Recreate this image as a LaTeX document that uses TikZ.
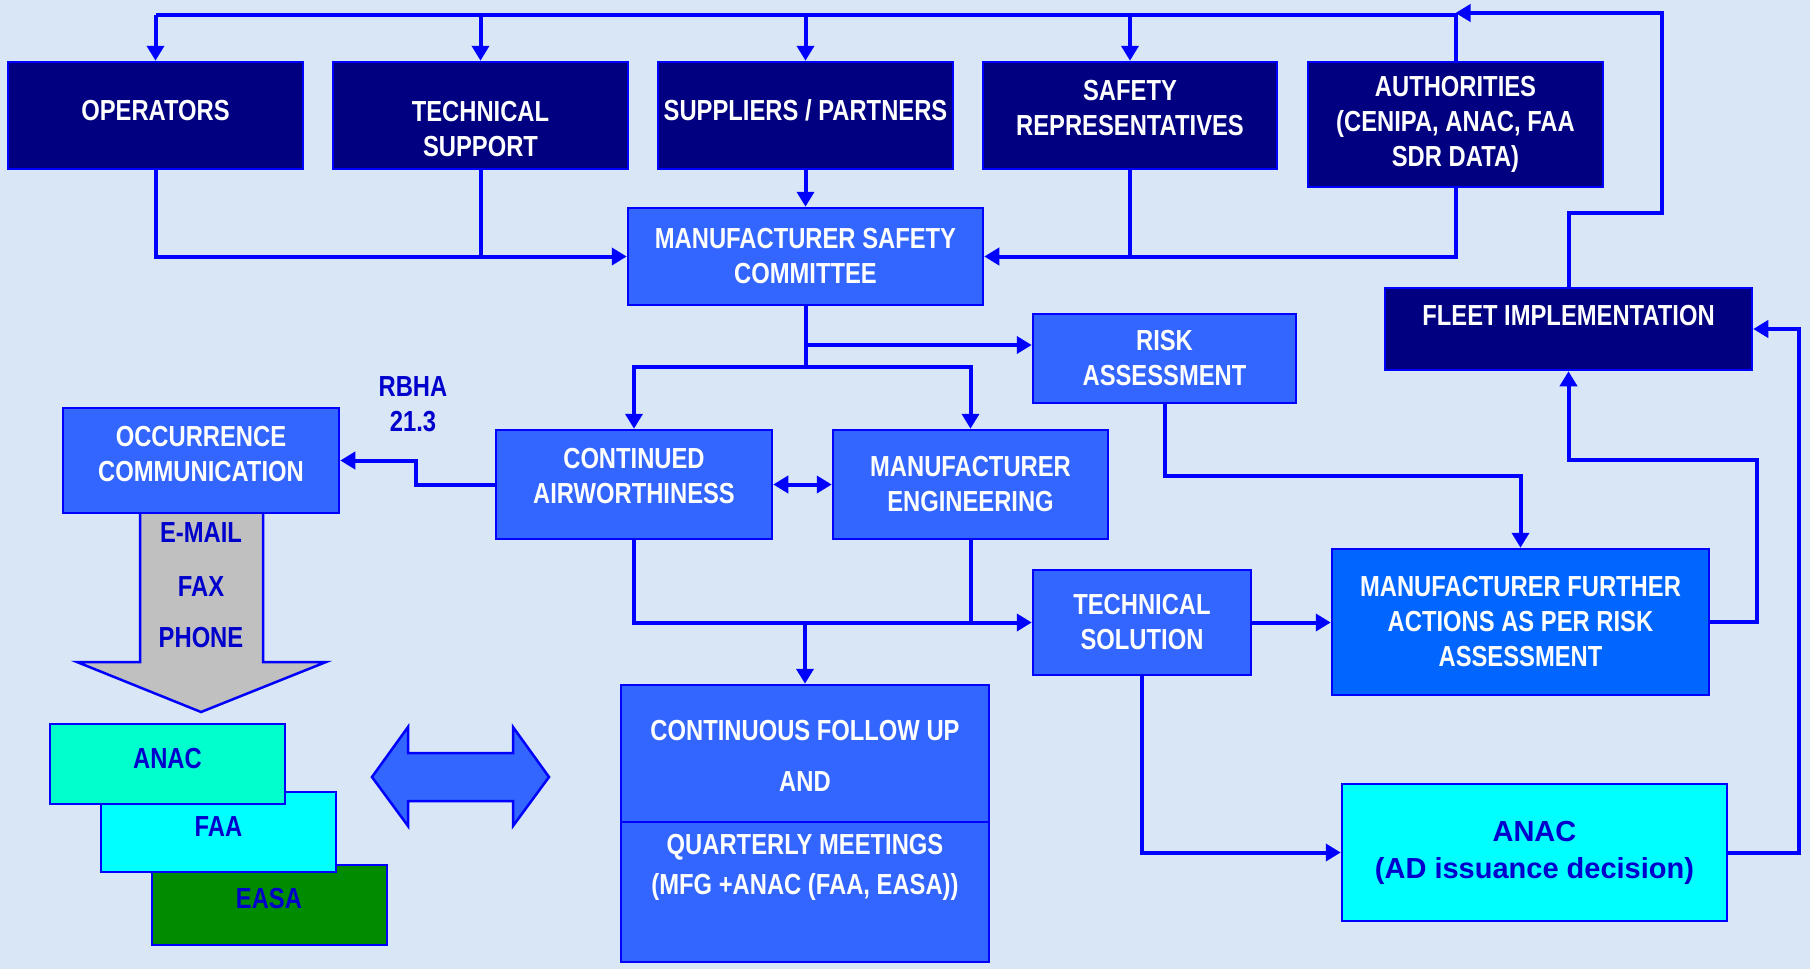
\documentclass[tikz,border=0pt]{standalone}
\usepackage{fontspec}
\setmainfont{Liberation Sans}[FakeStretch=0.82]
\newfontfamily\widefont{Liberation Sans}
\usetikzlibrary{arrows.meta}
\definecolor{bgblue}{RGB}{216,230,245}
\definecolor{navy}{RGB}{0,0,128}
\definecolor{midblue}{RGB}{51,102,255}
\definecolor{brightblue}{RGB}{0,102,255}
\definecolor{linkblue}{RGB}{0,0,255}
\definecolor{txtblue}{RGB}{0,0,204}
\definecolor{anacgreen}{RGB}{0,255,204}
\definecolor{aqua}{RGB}{0,255,255}
\definecolor{easagreen}{RGB}{0,140,0}
\definecolor{arrowgray}{RGB}{192,192,192}

\begin{document}
\begin{tikzpicture}[x=0.1mm,y=-0.1mm]

		\tikzstyle{box}=[draw=linkblue, line width=0.25mm, rectangle, align=center, inner sep=0pt, font=\bfseries\fontsize{8.25pt}{9.96pt}\selectfont]
		\tikzstyle{dark box}=[box, fill=navy, text=white]
		\tikzstyle{mid box}=[box, fill=midblue, text=white]
		\tikzstyle{agency box}=[box, text=txtblue, line width=0.2mm, minimum width=23.5mm, minimum height=8mm, text height=5.9pt, text depth=3.4pt]
		\tikzstyle{blue text}=[text=txtblue, align=center, inner sep=0pt, font=\bfseries\fontsize{8.25pt}{9.96pt}\selectfont]
		\tikzstyle{link}=[linkblue, line width=0.4mm]
		\tikzstyle{link arrow}=[link, -{Triangle[length=1.5mm,width=1.7mm]}]
		\tikzstyle{both arrow}=[link, {Triangle[length=1.5mm,width=1.7mm]}-{Triangle[length=1.5mm,width=1.7mm]}]
		\tikzstyle{block arrow}=[draw=linkblue, line width=0.25mm, line join=miter]

	%background
	\fill[bgblue] (0,0) rectangle (1810,969);
	\useasboundingbox (0,0) rectangle (1810,969);

	%gray arrow under the occurrence box
	\draw[block arrow, fill=arrowgray] (140,510) -- (263,510) -- (263,662) -- (326,662) -- (201,712) -- (77,662) -- (140,662) -- cycle;

	%sources
	\node[dark box, minimum width=29.5mm, minimum height=10.7mm, text height=5.9pt, text depth=2.8pt] (oper) at (155.5,115.5) {OPERATORS};
	\node[dark box, minimum width=29.5mm, minimum height=10.7mm, text height=23.3pt] (tech) at (480.5,115.5) {TECHNICAL\\SUPPORT};
	\node[dark box, minimum width=29.5mm, minimum height=10.7mm, text height=5.9pt, text depth=2.8pt] (supp) at (805.5,115.5) {SUPPLIERS / PARTNERS};
	\node[dark box, minimum width=29.4mm, minimum height=10.7mm, text depth=4.6pt] (safety) at (1130,115.5) {SAFETY\\REPRESENTATIVES};
	\node[dark box, minimum width=29.5mm, minimum height=12.5mm] (auth) at (1455.5,124.5) {AUTHORITIES\\(CENIPA, ANAC, FAA\\SDR DATA)};

	%committee and its branches
	\node[mid box, minimum width=35.5mm, minimum height=9.7mm] (msc) at (805.5,256.5) {MANUFACTURER SAFETY\\COMMITTEE};
	\node[mid box, minimum width=26.3mm, minimum height=8.9mm] (risk) at (1164.5,358.5) {RISK\\ASSESSMENT};
	\node[dark box, minimum width=36.7mm, minimum height=8.2mm, text height=5.9pt, text depth=8pt] (fleet) at (1568.5,329) {FLEET IMPLEMENTATION};
	\node[mid box, minimum width=27.6mm, minimum height=10.5mm, text depth=4pt] (occ) at (201,460.5) {OCCURRENCE\\COMMUNICATION};
	\node[mid box, minimum width=27.6mm, minimum height=10.9mm, text depth=5.1pt] (ca) at (634,484.5) {CONTINUED\\AIRWORTHINESS};
	\node[mid box, minimum width=27.5mm, minimum height=10.9mm] (me) at (970.5,484.5) {MANUFACTURER\\ENGINEERING};
	\node[mid box, minimum width=21.8mm, minimum height=10.5mm] (ts) at (1142,622.5) {TECHNICAL\\SOLUTION};
	\node[box, fill=brightblue, text=white, minimum width=37.7mm, minimum height=14.6mm] (mfa) at (1520.5,622) {MANUFACTURER FURTHER\\ACTIONS AS PER RISK\\ASSESSMENT};
	\node[mid box, minimum width=36.8mm, minimum height=27.7mm, text depth=9.2pt] (cfu) at (805,823.5) {CONTINUOUS FOLLOW UP\\[4.8pt]AND\\[8pt]QUARTERLY MEETINGS\\[1.4pt](MFG +ANAC (FAA, EASA))};
	\node[box, fill=aqua, text=txtblue, font=\bfseries\widefont\fontsize{8.25pt}{10.5pt}\selectfont, minimum width=38.5mm, minimum height=13.7mm] (adbox) at (1534.5,852.5) {ANAC\\(AD issuance decision)};

	%split line of the follow up box
	\coordinate (cfusplit) at (805,822);
	\draw[link, line width=0.25mm] (cfu.west |- cfusplit) -- (cfu.east |- cfusplit);

	%means of communication
	\node[blue text] (mail) at (201,533) {E-MAIL};
	\node[blue text] (fax) at (201,587) {FAX};
	\node[blue text] (phone) at (201,638) {PHONE};
	\node[blue text] (rbha) at (413,404) {RBHA\\21.3};

	%agencies
	\node[agency box, fill=easagreen] (easa) at (269,904.5) {EASA};
	\node[agency box, fill=aqua] (faa) at (218.5,832) {FAA};
	\node[agency box, fill=anacgreen] (anac) at (167.5,764) {ANAC};

	%double block arrow
	\draw[block arrow, fill=midblue] (372,777) -- (408,727) -- (408,753) -- (513,753) -- (513,727) -- (549,777) -- (513,826) -- (513,801) -- (408,801) -- (408,826) -- cycle;

	%feedback to the sources
	\coordinate (ttop) at (0,15);
	\draw[link] (auth.north) -- (auth.north |- ttop) -- (oper.north |- ttop);
	\foreach \src in {oper,tech,supp,safety}
		\draw[link arrow] (\src.north |- ttop) -- (\src.north);
	\coordinate (fbA) at (1662,213);
	\coordinate (fbB) at (1662,13);
	\draw[link arrow] (fleet.north) |- (fbA) -- (fbB) -- (auth.north |- fbB);

	%sources to committee
	\draw[link arrow] (oper.south) |- (msc.west);
	\draw[link] (tech.south) -- (tech.south |- msc.west);
	\draw[link arrow] (supp.south) -- (msc.north);
	\draw[link arrow] (auth.south) |- (msc.east);
	\draw[link] (safety.south) -- (safety.south |- msc.east);

	%committee outputs
	\coordinate (rk) at (805.5,345);
	\coordinate (split) at (805.5,367);
	\draw[link arrow] (msc.south) |- (risk.west |- rk);
	\draw[link] (msc.south) -- (split);
	\draw[link arrow] (split) -| (ca.north);
	\draw[link arrow] (split) -| (me.north);
	\draw[both arrow] (ca.east) -- (me.west);
	\draw[link arrow] (ca.west) -- ++(-79,0) |- (occ.east);

	%to technical solution and follow up
	\draw[link arrow] (ca.south) |- (ts.west);
	\draw[link] (me.south) -- (me.south |- ts.west);
	\draw[link arrow] (cfu.north |- ts.west) -- (cfu.north);

	%risk and further actions
	\draw[link arrow] (risk.south) -- ++(0,72) -| (mfa.north);
	\draw[link arrow] (ts.east) -- (ts.east -| mfa.west);
	\draw[link arrow] (mfa.east) -- ++(47,0) -- ++(0,-162) -| (fleet.south);
	\draw[link arrow] (ts.south) |- (adbox.west);
	\draw[link arrow] (adbox.east) -- ++(71,0) |- (fleet.east);

\end{tikzpicture}
\end{document}
